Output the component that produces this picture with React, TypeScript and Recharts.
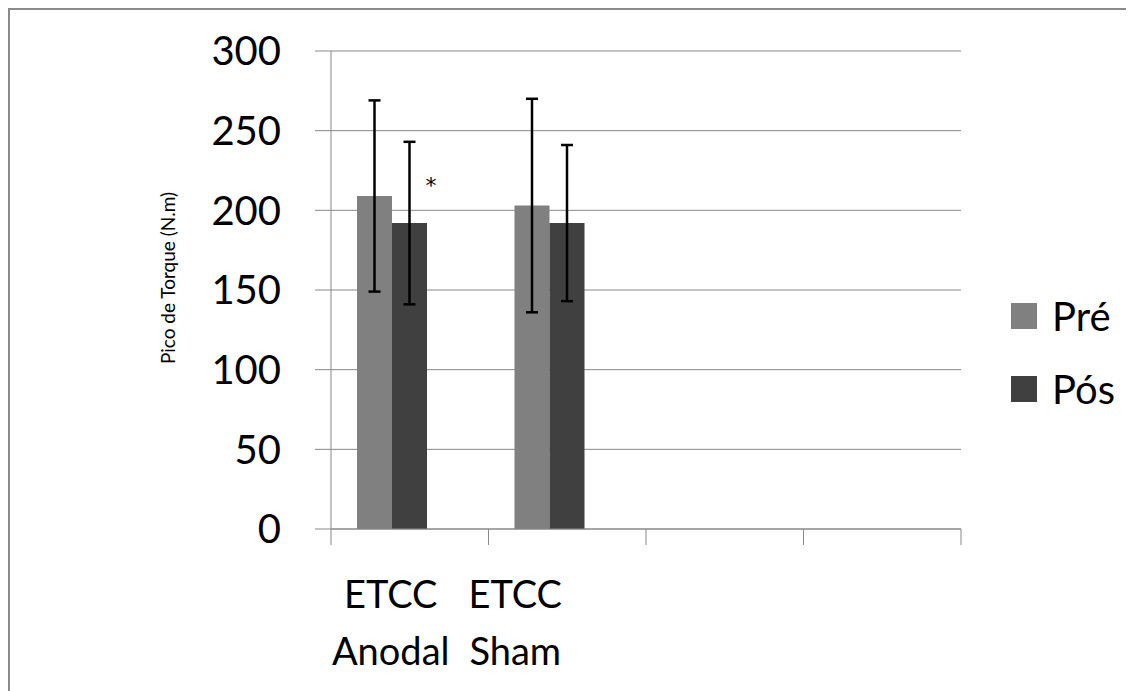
import { Bar, BarChart, CartesianGrid, ErrorBar, LabelList, Legend, XAxis, YAxis } from "recharts";

// valores (Excel, 3 séries, a terceira vazia)
const grupos = ["ETCC Anodal", "ETCC Sham", "", ""];
const pre = [209, 203, null, null];
const preDp = [60, 67, null, null];
const pos = [192, 192, null, null];
const posDp = [51, 49, null, null];
const vazia = [null, null, null, null];
const marcasPos = ["*", "", "", ""];
const yTicks = [0, 50, 100, 150, 200, 250, 300];

const data = grupos.map((g, i) => ({
  grupo: g,
  pre: pre[i],
  preDp: preDp[i],
  pos: pos[i],
  posDp: posDp[i],
  vazia: vazia[i],
  marca: marcasPos[i],
}));

const FONT = "Lato, 'Open Sans', sans-serif";
const GRID = "#888888";
// deslocamento dos rótulos como no original
const labelShift = [-19, -52, 0, 0];

// rótulo em duas linhas + marcas de divisão entre categorias (estilo Excel)
const GrupoTick = (props: any) => {
  const { x, y, payload, index, visibleTicksCount } = props;
  const half = payload.offset ?? 0;
  const linhas = String(payload.value).split(" ");
  const cx = x + (labelShift[index] ?? 0);
  return (
    <g>
      <line x1={x - half} x2={x - half} y1={y} y2={y + 16} stroke={GRID} />
      {index === visibleTicksCount - 1 && <line x1={x + half} x2={x + half} y1={y} y2={y + 16} stroke={GRID} />}
      {linhas.map((l: string, k: number) => (
        <text key={k} x={cx} y={y + 79 + k * 57} textAnchor="middle" fontSize={38} fontFamily={FONT} fill="#000">
          {l}
        </text>
      ))}
    </g>
  );
};

const Asterisco = (props: any) => {
  const { x, y, width, value } = props;
  if (!value) return null;
  return (
    <text x={x + width + 4} y={y - 30} textAnchor="middle" fontSize={22} fontFamily="'DejaVu Sans', sans-serif" fill="#000">
      {value}
    </text>
  );
};

const LegendaBox = () => (
  <div style={{ fontFamily: FONT, fontSize: 40, color: "#000" }}>
    {[
      { nome: "Pré", cor: "#808080" },
      { nome: "Pós", cor: "#404040" },
    ].map((it) => (
      <div key={it.nome} style={{ display: "flex", alignItems: "center", height: 73 }}>
        <span style={{ width: 26, height: 26, background: it.cor, marginRight: 15, display: "inline-block" }} />
        <span>{it.nome}</span>
      </div>
    ))}
  </div>
);

export default function App() {
  return (
    <div style={{ position: "relative", width: 1126, height: 683 }}>
      <div
        style={{
          position: "absolute",
          left: 0,
          top: 0,
          width: 1126,
          height: 683,
          borderTop: "2px solid #8a8a8a",
          borderLeft: "2px solid #8a8a8a",
        }}
      />
      <BarChart
        width={1126}
        height={683}
        data={data}
        margin={{ top: 43, right: 173, bottom: 32, left: 223 }}
        barGap={0}
        barSize={35}
        style={{ position: "absolute", left: 0, top: 0 }}
      >
        <CartesianGrid vertical={false} stroke={GRID} strokeWidth={1} />
        <XAxis
          dataKey="grupo"
          height={130}
          stroke={GRID}
          tickLine={false}
          tickSize={0}
          tickMargin={0}
          interval={0}
          tick={<GrupoTick />}
        />
        <YAxis
          domain={[0, 300]}
          ticks={yTicks}
          width={100}
          stroke={GRID}
          tickSize={16}
          tickMargin={34}
          tick={{ fill: "#000", fontSize: 40, fontFamily: FONT }}
          label={{
            content: ({ viewBox }: any) => (
              <text
                transform={`translate(${viewBox.x - 64}, ${viewBox.y + viewBox.height / 2 - 12}) rotate(-90)`}
                textAnchor="middle"
                dominantBaseline="central"
                fontSize={19}
                fontFamily={FONT}
                fill="#000"
              >
                Pico de Torque (N.m)
              </text>
            ),
          }}
        />
        <Legend
          layout="vertical"
          align="center"
          verticalAlign="middle"
          content={<LegendaBox />}
          wrapperStyle={{ left: 1003, top: 271, width: 120 }}
        />
        <Bar dataKey="pre" name="Pré" fill="#808080" isAnimationActive={false}>
          <ErrorBar dataKey="preDp" width={6} stroke="#000" strokeWidth={2.5} isAnimationActive={false} />
        </Bar>
        <Bar dataKey="pos" name="Pós" fill="#404040" isAnimationActive={false}>
          <ErrorBar dataKey="posDp" width={6} stroke="#000" strokeWidth={2.5} isAnimationActive={false} />
          <LabelList dataKey="marca" content={<Asterisco />} />
        </Bar>
        <Bar dataKey="vazia" legendType="none" fill="#c0c0c0" isAnimationActive={false} />
      </BarChart>
    </div>
  );
}
